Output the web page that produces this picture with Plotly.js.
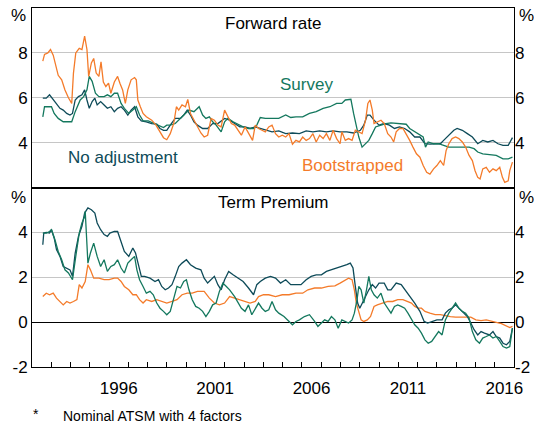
<!DOCTYPE html>
<html>
<head>
<meta charset="utf-8">
<script src="https://cdn.plot.ly/plotly-3.0.1.min.js"></script>
<style>html,body{margin:0;padding:0;background:#fff;}#chart{width:534px;height:428px;}</style>
</head>
<body>
<div id="chart"></div>
<script>
// ---------- Forward rate panel (per cent) ----------
var fwdBootX = [1992.56,1992.65,1992.82,1992.96,1993.10,1993.24,1993.36,1993.54,1993.71,1993.89,1994.01,1994.06,1994.15,1994.27,1994.45,1994.59,1994.73,1994.85,1994.94,1995.08,1995.20,1995.33,1995.47,1995.58,1995.70,1995.83,1995.97,1996.09,1996.27,1996.44,1996.56,1996.70,1996.84,1996.97,1997.14,1997.32,1997.41,1997.49,1997.62,1997.76,1997.93,1998.21,1998.43,1998.64,1998.82,1998.99,1999.17,1999.35,1999.49,1999.61,1999.78,1999.96,2000.08,2000.22,2000.40,2000.58,2000.76,2000.93,2001.11,2001.29,2001.46,2001.64,2001.81,2001.99,2002.13,2002.34,2002.51,2002.69,2002.86,2003.05,2003.23,2003.44,2003.58,2003.75,2003.93,2004.10,2004.28,2004.45,2004.63,2004.80,2004.98,2005.16,2005.33,2005.51,2005.69,2005.87,2006.04,2006.22,2006.39,2006.57,2006.74,2006.92,2007.10,2007.27,2007.45,2007.62,2007.80,2007.98,2008.07,2008.25,2008.42,2008.60,2008.77,2008.95,2009.12,2009.30,2009.42,2009.53,2009.65,2009.74,2009.91,2010.10,2010.27,2010.45,2010.62,2010.76,2010.89,2011.06,2011.24,2011.41,2011.59,2011.76,2011.94,2012.12,2012.29,2012.47,2012.64,2012.83,2013.00,2013.18,2013.35,2013.48,2013.62,2013.79,2013.97,2014.14,2014.32,2014.49,2014.67,2014.84,2014.98,2015.12,2015.24,2015.38,2015.56,2015.73,2015.91,2016.08,2016.26,2016.40,2016.52,2016.70,2016.78,2016.92];
var fwdBootY = [7.63,7.93,8.0,8.15,7.9,7.4,7.0,6.8,6.35,6.0,5.8,5.75,7.1,8.0,8.2,8.15,8.75,8.15,6.95,7.55,7.75,7.1,6.95,7.6,6.7,6.5,6.65,6.2,6.7,6.95,6.65,6.35,5.75,6.35,6.8,6.9,6.8,5.9,5.6,5.3,5.15,5.0,4.78,4.48,4.22,4.13,4.4,4.85,5.6,5.45,5.68,5.6,5.93,5.3,5.0,4.7,4.43,4.25,4.33,5.08,5.0,4.78,4.7,5.45,5.23,4.85,4.78,4.55,4.33,4.7,4.4,4.1,4.78,4.63,4.55,4.48,4.7,4.78,4.4,4.25,4.33,4.25,4.4,3.93,4.1,4.03,4.25,4.1,4.18,4.4,4.03,4.33,4.18,4.4,4.1,4.55,4.18,3.95,4.48,4.1,4.18,4.1,4.55,4.48,4.4,5.0,5.75,5.9,5.45,4.85,4.93,5.0,4.85,4.4,4.25,4.03,4.48,4.63,4.63,4.4,4.1,3.8,3.5,3.35,2.98,2.68,2.6,2.83,2.98,3.2,2.98,3.65,3.95,4.18,4.25,4.18,4.03,3.8,3.43,3.2,2.75,2.45,2.38,2.83,2.9,2.68,2.83,2.75,2.9,2.45,2.23,2.3,2.75,3.13];

var fwdNoAdjX = [1992.56,1992.74,1992.91,1993.10,1993.27,1993.45,1993.62,1993.80,1993.97,1994.10,1994.24,1994.41,1994.59,1994.73,1994.85,1994.97,1995.12,1995.26,1995.38,1995.56,1995.74,1995.91,1996.09,1996.27,1996.44,1996.62,1996.79,1996.97,1997.14,1997.32,1997.49,1997.67,1997.93,1998.21,1998.47,1998.64,1998.82,1998.99,1999.17,1999.43,1999.70,1999.87,2000.05,2000.22,2000.40,2000.58,2000.85,2001.11,2001.37,2001.64,2001.99,2002.25,2002.51,2002.78,2003.05,2003.31,2003.58,2003.84,2004.10,2004.45,2004.80,2005.16,2005.51,2005.87,2006.22,2006.57,2006.92,2007.27,2007.62,2007.98,2008.33,2008.68,2009.03,2009.21,2009.39,2009.53,2009.74,2010.00,2010.27,2010.54,2010.80,2011.06,2011.33,2011.59,2011.85,2012.12,2012.38,2012.64,2012.91,2013.18,2013.35,2013.62,2013.88,2014.05,2014.32,2014.58,2014.84,2015.12,2015.38,2015.64,2015.91,2016.17,2016.43,2016.70,2016.92];
var fwdNoAdjY = [5.98,5.98,6.13,5.9,5.75,5.53,5.45,5.3,5.23,5.3,5.9,6.05,6.13,6.35,5.9,5.53,5.83,5.98,5.68,5.83,5.68,5.53,5.6,5.38,5.53,5.6,5.45,5.23,5.45,5.6,5.15,4.97,4.93,4.85,4.82,4.63,4.55,4.55,4.78,5.08,5.08,5.23,5.45,5.23,4.93,4.78,4.63,4.63,4.85,4.85,5.08,5.0,4.85,4.7,4.7,4.63,4.7,4.63,4.55,4.48,4.52,4.4,4.43,4.4,4.52,4.48,4.52,4.48,4.52,4.48,4.48,4.43,4.55,4.78,5.23,5.23,5.0,4.78,4.85,4.78,4.63,4.7,4.63,4.48,4.25,4.25,3.95,3.93,3.95,3.95,4.1,4.33,4.55,4.63,4.55,4.4,4.25,3.95,4.1,4.03,4.1,3.95,3.88,3.88,4.22];

var fwdSurvX = [1992.56,1992.65,1992.82,1993.01,1993.15,1993.36,1993.62,1993.89,1994.06,1994.24,1994.50,1994.68,1994.85,1994.97,1995.12,1995.29,1995.47,1995.74,1995.91,1996.09,1996.27,1996.44,1996.62,1996.79,1997.02,1997.23,1997.41,1997.58,1997.76,1998.03,1998.29,1998.56,1998.82,1998.99,1999.17,1999.43,1999.70,1999.96,2000.14,2000.40,2000.67,2000.85,2001.02,2001.20,2001.37,2001.55,2001.81,2001.99,2002.16,2002.43,2002.69,2002.95,2003.23,2003.49,2003.66,2003.84,2004.10,2004.45,2004.80,2005.16,2005.42,2005.69,2006.04,2006.39,2006.74,2007.10,2007.45,2007.80,2008.07,2008.25,2008.42,2008.54,2008.68,2008.82,2008.95,2009.12,2009.30,2009.47,2009.65,2009.82,2010.10,2010.36,2010.62,2010.89,2011.15,2011.41,2011.59,2011.85,2012.12,2012.29,2012.41,2012.55,2012.83,2013.09,2013.35,2013.62,2013.97,2014.32,2014.67,2014.93,2015.12,2015.38,2015.73,2016.08,2016.43,2016.70,2016.92];
var fwdSurvY = [5.15,5.6,5.6,5.6,5.3,5.08,4.93,4.93,4.93,5.38,5.9,6.05,6.35,6.95,6.73,6.2,6.05,6.05,6.13,6.05,6.2,6.2,5.75,5.53,5.3,5.45,5.6,5.23,4.97,4.97,4.88,4.78,4.67,4.78,4.78,4.85,5.08,5.3,5.45,5.38,5.6,5.23,5.08,5.15,4.93,4.78,4.48,4.93,5.08,4.93,4.82,4.7,4.63,4.63,4.78,5.12,5.08,5.08,5.08,5.23,5.12,5.15,5.15,5.3,5.38,5.53,5.6,5.75,5.75,5.9,5.9,5.93,5.3,4.7,4.25,3.8,3.95,4.1,4.4,4.7,4.78,4.85,4.88,4.85,4.85,4.82,4.63,4.48,4.33,4.25,3.8,4.03,3.95,3.95,3.88,3.8,3.8,3.8,3.8,3.73,3.58,3.5,3.48,3.43,3.28,3.28,3.35];

// ---------- Term premium panel (per cent) ----------
var tpNoAdjX = [1992.56,1992.61,1992.74,1992.91,1993.01,1993.15,1993.27,1993.45,1993.62,1993.80,1993.97,1994.10,1994.24,1994.41,1994.59,1994.73,1994.90,1995.08,1995.26,1995.38,1995.56,1995.74,1995.91,1996.04,1996.27,1996.44,1996.62,1996.79,1997.02,1997.23,1997.37,1997.55,1997.67,1997.84,1998.12,1998.38,1998.56,1998.73,1998.91,1999.08,1999.26,1999.43,1999.61,1999.78,2000.01,2000.22,2000.49,2000.76,2000.93,2001.11,2001.29,2001.46,2001.64,2001.81,2001.99,2002.20,2002.43,2002.69,2002.95,2003.23,2003.49,2003.66,2003.84,2004.10,2004.37,2004.63,2004.89,2005.16,2005.42,2005.69,2005.95,2006.22,2006.48,2006.74,2007.01,2007.27,2007.53,2007.80,2008.07,2008.33,2008.51,2008.65,2008.77,2008.89,2009.00,2009.12,2009.30,2009.47,2009.65,2009.82,2010.00,2010.27,2010.45,2010.62,2010.89,2011.15,2011.41,2011.68,2011.85,2012.12,2012.34,2012.52,2012.73,2013.00,2013.27,2013.44,2013.62,2013.79,2013.97,2014.14,2014.32,2014.58,2014.76,2014.93,2015.12,2015.29,2015.47,2015.73,2015.91,2016.08,2016.26,2016.43,2016.61,2016.78,2016.92];
var tpNoAdjY = [3.45,3.97,4.0,3.97,4.12,3.75,3.23,2.93,2.48,2.41,2.33,2.04,3.08,3.82,4.27,4.86,5.09,5.01,4.86,4.42,4.12,3.9,3.82,3.97,4.04,4.04,3.6,3.15,2.93,3.3,3.08,2.48,2.04,2.04,1.96,1.81,1.89,1.59,1.44,1.52,1.67,2.04,2.48,2.63,2.78,2.56,2.41,2.33,1.96,1.74,1.89,2.04,1.67,1.44,1.89,2.26,2.11,1.96,1.81,1.52,1.22,1.67,1.81,1.96,2.04,1.96,1.74,1.89,1.67,1.67,1.67,1.89,2.04,2.11,2.11,2.26,2.33,2.41,2.48,2.56,2.63,2.41,1.59,0.85,0.62,0.85,1.14,1.44,1.67,1.52,1.74,1.74,1.44,1.44,1.74,1.67,1.37,1.07,0.85,0.48,0.03,-0.04,0.03,0.1,0.1,0.4,0.55,0.62,0.77,0.62,0.48,0.25,-0.04,-0.34,-0.57,-0.42,-0.49,-0.57,-0.42,-0.64,-0.71,-0.94,-1.01,-0.86,-0.27];

var tpSurvX = [1992.56,1992.74,1992.91,1993.01,1993.19,1993.36,1993.54,1993.71,1993.89,1994.10,1994.27,1994.45,1994.59,1994.73,1994.76,1994.90,1995.03,1995.20,1995.38,1995.56,1995.74,1995.91,1996.09,1996.27,1996.44,1996.62,1996.79,1996.97,1997.14,1997.32,1997.44,1997.58,1997.76,1997.93,1998.12,1998.29,1998.47,1998.64,1998.82,1998.99,1999.17,1999.35,1999.52,1999.70,1999.87,2000.01,2000.14,2000.31,2000.49,2000.67,2000.85,2001.02,2001.20,2001.37,2001.55,2001.72,2001.90,2002.08,2002.25,2002.51,2002.69,2002.86,2003.05,2003.23,2003.40,2003.58,2003.75,2003.93,2004.10,2004.28,2004.45,2004.63,2004.80,2005.07,2005.33,2005.51,2005.69,2005.87,2006.13,2006.39,2006.66,2006.83,2007.01,2007.18,2007.36,2007.53,2007.71,2007.88,2008.07,2008.25,2008.42,2008.60,2008.72,2008.86,2008.95,2009.07,2009.21,2009.35,2009.47,2009.60,2009.74,2009.91,2010.10,2010.27,2010.45,2010.62,2010.80,2010.97,2011.15,2011.33,2011.50,2011.68,2011.85,2012.03,2012.20,2012.38,2012.55,2012.73,2012.91,2013.09,2013.27,2013.44,2013.62,2013.79,2013.97,2014.14,2014.32,2014.49,2014.67,2014.84,2015.02,2015.21,2015.38,2015.56,2015.73,2015.91,2016.08,2016.26,2016.43,2016.61,2016.78,2016.92];
var tpSurvY = [3.97,3.97,4.04,4.12,3.67,3.15,2.78,2.33,2.19,1.89,2.93,3.97,4.42,4.7,4.94,2.63,3.08,3.52,2.93,2.48,2.78,2.26,2.48,2.56,2.78,2.41,2.19,2.63,2.78,2.93,2.33,1.89,1.59,1.29,1.37,1.22,0.85,0.62,0.48,0.33,0.48,1.0,1.59,1.52,1.81,1.89,1.44,1.0,0.7,0.62,0.48,0.25,0.48,0.77,0.85,1.37,1.74,1.59,1.44,1.14,0.85,0.62,0.48,0.77,0.33,0.62,0.85,0.62,0.48,0.55,0.92,0.55,0.4,0.25,0.03,-0.12,0.03,0.1,0.25,0.33,0.03,-0.19,-0.04,0.1,0.03,0.25,0.1,-0.27,0.1,0.03,-0.04,0.1,0.4,1.0,1.59,1.44,0.85,1.44,2.04,1.44,1.22,1.07,1.29,0.85,0.62,0.4,0.7,0.77,0.7,0.62,0.4,0.1,-0.12,-0.27,-0.49,-0.79,-0.94,-0.86,-0.64,-0.42,-0.57,0.1,0.4,0.62,0.85,0.62,0.48,0.4,0.18,-0.42,-0.79,-0.94,-0.71,-0.64,-0.57,-0.71,-0.64,-0.86,-1.09,-1.16,-1.09,-0.27];

var tpBootX = [1992.56,1992.74,1992.91,1993.10,1993.27,1993.45,1993.62,1993.80,1993.97,1994.15,1994.33,1994.45,1994.59,1994.76,1994.90,1995.03,1995.20,1995.47,1995.74,1996.00,1996.27,1996.44,1996.62,1996.79,1997.02,1997.23,1997.41,1997.58,1997.76,1997.93,1998.21,1998.47,1998.73,1998.99,1999.26,1999.52,1999.78,2000.05,2000.31,2000.58,2000.93,2001.20,2001.46,2001.72,2001.99,2002.25,2002.51,2002.78,2003.05,2003.31,2003.58,2003.75,2004.01,2004.28,2004.63,2004.98,2005.33,2005.69,2006.04,2006.31,2006.66,2007.01,2007.36,2007.71,2007.98,2008.25,2008.42,2008.60,2008.72,2008.82,2008.95,2009.07,2009.21,2009.39,2009.56,2009.74,2009.91,2010.19,2010.45,2010.71,2010.97,2011.24,2011.50,2011.68,2011.85,2012.03,2012.20,2012.38,2012.64,2012.91,2013.18,2013.44,2013.70,2013.97,2014.23,2014.49,2014.76,2015.02,2015.29,2015.56,2015.82,2016.08,2016.35,2016.61,2016.78,2016.92];
var tpBootY = [1.14,1.29,1.22,1.29,1.07,0.92,0.77,0.92,0.85,0.92,1.0,1.67,1.52,1.81,2.56,2.33,1.96,1.96,1.89,1.89,1.96,1.96,1.81,1.59,1.44,1.22,1.22,1.0,0.85,1.0,0.92,1.0,0.92,0.85,0.92,1.0,1.22,1.29,1.29,1.37,1.37,1.07,0.85,0.77,0.85,1.14,1.07,1.0,0.92,0.85,0.92,1.14,1.22,1.22,1.14,1.22,1.22,1.29,1.29,1.44,1.52,1.52,1.59,1.62,1.74,1.89,1.96,1.89,1.44,0.85,0.4,0.1,0.03,0.1,0.25,0.7,0.77,0.85,0.92,0.92,1.0,1.0,0.92,0.85,0.7,0.62,0.62,0.48,0.4,0.33,0.33,0.28,0.25,0.22,0.22,0.25,0.22,0.1,0.07,0.1,0.03,-0.01,-0.07,-0.19,-0.24,-0.19];

// ---------- Axis ticks and labels ----------
var yearTicks = [1993,1994,1995,1996,1997,1998,1999,2000,2001,2002,2003,2004,2005,2006,2007,2008,2009,2010,2011,2012,2013,2014,2015,2016];
var yearLabelPos = [1996.5,2001.5,2006.5,2011.5,2016.5];
var yearLabels = ['1996','2001','2006','2011','2016'];
var xRange = [1992, 2017];
var fwdRange = [2, 10];
var tpRange = [-2, 6];
var fwdTicks = [4,6,8];
var fwdTickText = ['4','6','8'];
var tpTicks = [-2,0,2,4];
var tpTickText = ['-2','0','2','4'];

var C_BOOT = '#F47B2A', C_SURV = '#14785E', C_NOADJ = '#0E4B59';
var FONT = 'Liberation Sans, Arial, Helvetica, sans-serif';

function line(x, y, color, xa, ya) {
  return {x: x, y: y, type: 'scatter', mode: 'lines', xaxis: xa, yaxis: ya,
          line: {color: color, width: 1.3}, hoverinfo: 'skip', showlegend: false};
}
// invisible helper traces so that the overlaying label axes get drawn
function helper(xa, ya, yr) {
  return {x: xRange, y: yr, type: 'scatter', mode: 'lines', xaxis: xa, yaxis: ya,
          opacity: 0, line: {width: 0}, hoverinfo: 'skip', showlegend: false};
}

var data = [
  line(fwdNoAdjX, fwdNoAdjY, C_NOADJ, 'x2', 'y2'),
  line(fwdSurvX, fwdSurvY, C_SURV, 'x2', 'y2'),
  line(fwdBootX, fwdBootY, C_BOOT, 'x2', 'y2'),
  line(tpBootX, tpBootY, C_BOOT, 'x', 'y'),
  line(tpNoAdjX, tpNoAdjY, C_NOADJ, 'x', 'y'),
  line(tpSurvX, tpSurvY, C_SURV, 'x', 'y'),
  helper('x3', 'y3', tpRange),
  helper('x2', 'y4', fwdRange)
];

var tickFont = {family: FONT, size: 17, color: '#000'};
var frame = {showline: true, linecolor: '#000', linewidth: 1, mirror: true};

var layout = {
  width: 534, height: 428,
  margin: {l: 32, r: 20, t: 8, b: 61, pad: 0},
  paper_bgcolor: '#fff', plot_bgcolor: '#fff',
  font: {family: FONT, color: '#000'},
  showlegend: false,
  xaxis: Object.assign({}, frame, {
    domain: [0, 1], anchor: 'y', range: xRange,
    tickmode: 'array', tickvals: yearTicks, showticklabels: false,
    ticks: 'inside', ticklen: 5, tickwidth: 1, tickcolor: '#000',
    showgrid: false, zeroline: false
  }),
  xaxis3: {
    overlaying: 'x', anchor: 'y', side: 'bottom', range: xRange,
    tickmode: 'array', tickvals: yearLabelPos, ticktext: yearLabels,
    ticks: 'outside', ticklen: 6, tickcolor: 'rgba(0,0,0,0)',
    tickfont: tickFont, showline: false, showgrid: false, zeroline: false
  },
  xaxis2: Object.assign({}, frame, {
    domain: [0, 1], anchor: 'y2', range: xRange,
    showticklabels: false, ticks: '', showgrid: false, zeroline: false
  }),
  yaxis: Object.assign({}, frame, {
    domain: [0, 0.5], anchor: 'x', range: tpRange,
    tickmode: 'array', tickvals: tpTicks, ticktext: tpTickText, ticks: '', tickfont: tickFont,
    showgrid: true, gridcolor: '#c6c6c6', gridwidth: 1,
    zeroline: true, zerolinecolor: '#000', zerolinewidth: 1
  }),
  yaxis3: {
    overlaying: 'y', anchor: 'x3', side: 'right', range: tpRange,
    tickmode: 'array', tickvals: tpTicks, ticktext: tpTickText, ticks: '', tickfont: tickFont,
    showgrid: false, zeroline: false, showline: false
  },
  yaxis2: Object.assign({}, frame, {
    domain: [0.5, 1], anchor: 'x2', range: fwdRange,
    tickmode: 'array', tickvals: fwdTicks, ticktext: fwdTickText, ticks: '', tickfont: tickFont,
    showgrid: true, gridcolor: '#c6c6c6', gridwidth: 1, zeroline: false
  }),
  yaxis4: {
    overlaying: 'y2', anchor: 'x2', side: 'right', range: fwdRange,
    tickmode: 'array', tickvals: fwdTicks, ticktext: fwdTickText, ticks: '', tickfont: tickFont,
    showgrid: false, zeroline: false, showline: false
  },
  annotations: [
    {text: 'Forward rate', xref: 'paper', yref: 'paper', x: 0.5, y: 0.957, xanchor: 'center', yanchor: 'middle', showarrow: false, font: {family: FONT, size: 17, color: '#000'}},
    {text: 'Term Premium', xref: 'paper', yref: 'paper', x: 0.5, y: 0.4588, xanchor: 'center', yanchor: 'middle', showarrow: false, font: {family: FONT, size: 17, color: '#000'}},
    {text: 'Survey', xref: 'x2', yref: 'y2', x: 2006.26, y: 6.57, xanchor: 'center', yanchor: 'middle', showarrow: false, font: {family: FONT, size: 17, color: C_SURV}},
    {text: 'No adjustment', xref: 'x2', yref: 'y2', x: 1996.72, y: 3.32, xanchor: 'center', yanchor: 'middle', showarrow: false, font: {family: FONT, size: 17, color: C_NOADJ}},
    {text: 'Bootstrapped', xref: 'x2', yref: 'y2', x: 2008.6, y: 2.97, xanchor: 'center', yanchor: 'middle', showarrow: false, font: {family: FONT, size: 17, color: C_BOOT}},
    {text: '%', xref: 'paper', yref: 'paper', x: -0.008, y: 0.9805, xanchor: 'right', yanchor: 'middle', showarrow: false, font: {family: FONT, size: 17, color: '#000'}},
    {text: '%', xref: 'paper', yref: 'paper', x: 1.006, y: 0.9805, xanchor: 'left', yanchor: 'middle', showarrow: false, font: {family: FONT, size: 17, color: '#000'}},
    {text: '%', xref: 'paper', yref: 'paper', x: -0.008, y: 0.4735, xanchor: 'right', yanchor: 'middle', showarrow: false, font: {family: FONT, size: 17, color: '#000'}},
    {text: '%', xref: 'paper', yref: 'paper', x: 1.006, y: 0.4735, xanchor: 'left', yanchor: 'middle', showarrow: false, font: {family: FONT, size: 17, color: '#000'}},
    {text: '*', xref: 'paper', yref: 'paper', x: -0.002, y: -0.131, xanchor: 'left', yanchor: 'middle', showarrow: false, font: {family: FONT, size: 14, color: '#000'}},
    {text: 'Nominal ATSM with 4 factors', xref: 'paper', yref: 'paper', x: 0.06, y: -0.137, xanchor: 'left', yanchor: 'middle', showarrow: false, font: {family: FONT, size: 14, color: '#000'}}
  ]
};

Plotly.newPlot('chart', data, layout, {staticPlot: true, displayModeBar: false});
</script>
</body>
</html>
